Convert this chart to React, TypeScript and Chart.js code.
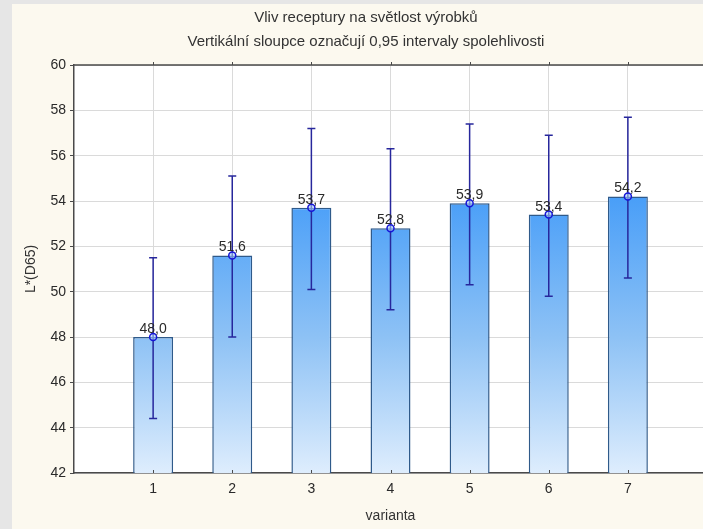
import React, { useEffect, useRef } from "react";
import { Chart, registerables } from "chart.js";

Chart.register(...registerables);

// Recipe variants and mean L*(D65) lightness with 0.95 confidence limits
const categories = ["1", "2", "3", "4", "5", "6", "7"];
const means = [48.0, 51.6, 53.7, 52.8, 53.9, 53.4, 54.2];
const lowerCI = [44.4, 48.0, 50.1, 49.2, 50.3, 49.8, 50.6];
const upperCI = [51.5, 55.1, 57.2, 56.3, 57.4, 56.9, 57.7];
const yTicks = [42, 44, 46, 48, 50, 52, 54, 56, 58, 60];

const titleLines = [
  "Vliv receptury na světlost výrobků",
  "Vertikální sloupce označují 0,95 intervaly spolehlivosti",
];
const xTitle = "varianta";
const yTitle = "L*(D65)";

const FONT = "'Liberation Sans', Arial, sans-serif";
const AXIS_DARK = "#4a4a4a";
const ERR_COLOR = "#27279c";

const fmt = (v: number) => v.toFixed(1).replace(".", ",");

export default function App() {
  const canvasRef = useRef<HTMLCanvasElement | null>(null);

  useEffect(() => {
    const canvas = canvasRef.current;
    if (!canvas) return;

    const points = means.map((m, i) => ({ x: i + 1, y: m }));

    const framePlugin = {
      id: "frame",
      beforeDraw(chart: any) {
        const { ctx, chartArea: a, width, height } = chart;
        ctx.save();
        ctx.fillStyle = "#fcf9ef";
        ctx.fillRect(0, 0, width, height);
        ctx.fillStyle = "#ffffff";
        ctx.fillRect(a.left, a.top, a.right - a.left, a.bottom - a.top);
        ctx.restore();
      },
      afterDatasetDraw(chart: any, args: any) {
        if (args.index !== 0) return;
        const { ctx } = chart;
        const xs = chart.scales.x;
        const ys = chart.scales.y;
        ctx.save();
        ctx.strokeStyle = ERR_COLOR;
        ctx.lineWidth = 1.5;
        categories.forEach((_, i) => {
          const px = xs.getPixelForValue(i + 1);
          const lo = ys.getPixelForValue(lowerCI[i]);
          const hi = ys.getPixelForValue(upperCI[i]);
          ctx.beginPath();
          ctx.moveTo(px, lo);
          ctx.lineTo(px, hi);
          ctx.moveTo(px - 4, lo);
          ctx.lineTo(px + 4, lo);
          ctx.moveTo(px - 4, hi);
          ctx.lineTo(px + 4, hi);
          ctx.stroke();
        });
        ctx.restore();
      },
      afterDraw(chart: any) {
        const { ctx, chartArea: a } = chart;
        const xs = chart.scales.x;
        const ys = chart.scales.y;
        ctx.save();
        // top frame line with small outward ticks, inward ticks on the base axis
        ctx.strokeStyle = AXIS_DARK;
        ctx.lineWidth = 1.5;
        ctx.beginPath();
        ctx.moveTo(a.left, a.top);
        ctx.lineTo(a.right, a.top);
        ctx.stroke();
        ctx.lineWidth = 1;
        categories.forEach((_, i) => {
          const px = Math.round(xs.getPixelForValue(i + 1)) + 0.5;
          ctx.beginPath();
          ctx.moveTo(px, a.top);
          ctx.lineTo(px, a.top - 3);
          ctx.moveTo(px, a.bottom);
          ctx.lineTo(px, a.bottom - 3);
          ctx.stroke();
        });

        // value labels above the mean markers
        ctx.fillStyle = "#2a2a2a";
        ctx.font = `14px ${FONT}`;
        ctx.textAlign = "center";
        ctx.textBaseline = "alphabetic";
        means.forEach((m, i) => {
          const px = xs.getPixelForValue(i + 1);
          const py = ys.getPixelForValue(m);
          ctx.fillText(fmt(m), px, py - 4);
        });

        // titles
        ctx.fillStyle = "#333333";
        ctx.font = `15px ${FONT}`;
        ctx.textBaseline = "middle";
        const cx = 354;
        ctx.fillText(titleLines[0], cx, 14);
        ctx.fillText(titleLines[1], cx, 38);

        // axis titles
        ctx.font = `14px ${FONT}`;
        ctx.fillText(xTitle, (a.left + a.right) / 2, 512);
        ctx.translate(19, (a.top + a.bottom) / 2);
        ctx.rotate(-Math.PI / 2);
        ctx.fillText(yTitle, 0, 0);
        ctx.restore();
      },
    };

    const chart = new Chart(canvas, {
      type: "bar",
      data: {
        datasets: [
          {
            type: "bar",
            data: points,
            order: 2,
            categoryPercentage: 1,
            barPercentage: 0.505,
            borderColor: "#2f5a8a",
            borderWidth: 1.5,
            borderSkipped: "bottom",
            backgroundColor: (c: any) => {
              const area = c.chart.chartArea;
              if (!area) return "#7ab6f5";
              const g = c.chart.ctx.createLinearGradient(0, area.top, 0, area.bottom);
              g.addColorStop(0, "#2a8bf6");
              g.addColorStop(0.33, "#4a9ff8");
              g.addColorStop(0.67, "#8ec2f5");
              g.addColorStop(1, "#deedfd");
              return g;
            },
          },
          {
            type: "line",
            data: points,
            order: 1,
            showLine: false,
            pointRadius: 3.5,
            pointBorderWidth: 1.5,
            pointBorderColor: "#1515d8",
            pointBackgroundColor: "rgba(160,200,250,0.6)",
          },
        ],
      } as any,
      options: {
        responsive: false,
        animation: false,
        devicePixelRatio: 1,
        layout: { padding: { top: 61, right: 25, left: 0, bottom: 0 } },
        plugins: {
          legend: { display: false },
          tooltip: { enabled: false },
          title: { display: false },
        },
        scales: {
          x: {
            type: "linear",
            min: 0,
            max: categories.length + 1,
            offset: false,
            afterBuildTicks: (s: any) => {
              s.ticks = categories.map((_, i) => ({ value: i + 1 }));
            },
            afterFit: (s: any) => {
              s.height = 56;
            },
            ticks: {
              autoSkip: false,
              maxRotation: 0,
              padding: 8,
              color: "#2a2a2a",
              font: { family: FONT, size: 14 },
              callback: (v: any) => categories[Number(v) - 1] ?? "",
            },
            grid: { color: "#dadada", drawTicks: false, offset: false },
            border: { color: AXIS_DARK, width: 1.5 },
          },
          y: {
            min: yTicks[0],
            max: yTicks[yTicks.length - 1],
            afterBuildTicks: (s: any) => {
              s.ticks = yTicks.map((v) => ({ value: v }));
            },
            afterFit: (s: any) => {
              s.width = 62;
            },
            ticks: {
              padding: 4,
              color: "#2a2a2a",
              font: { family: FONT, size: 14 },
            },
            grid: { color: "#dadada", tickColor: AXIS_DARK, tickLength: 4 },
            border: { color: AXIS_DARK, width: 1.5 },
          },
        },
      } as any,
      plugins: [framePlugin],
    });

    return () => chart.destroy();
  }, []);

  return (
    <div
      style={{
        position: "fixed",
        left: 0,
        top: 0,
        width: 703,
        height: 529,
        overflow: "hidden",
        background: "#e6e6e6",
      }}
    >
      <canvas
        ref={canvasRef}
        width={720}
        height={525}
        style={{ position: "absolute", left: 12, top: 4 }}
      />
    </div>
  );
}
